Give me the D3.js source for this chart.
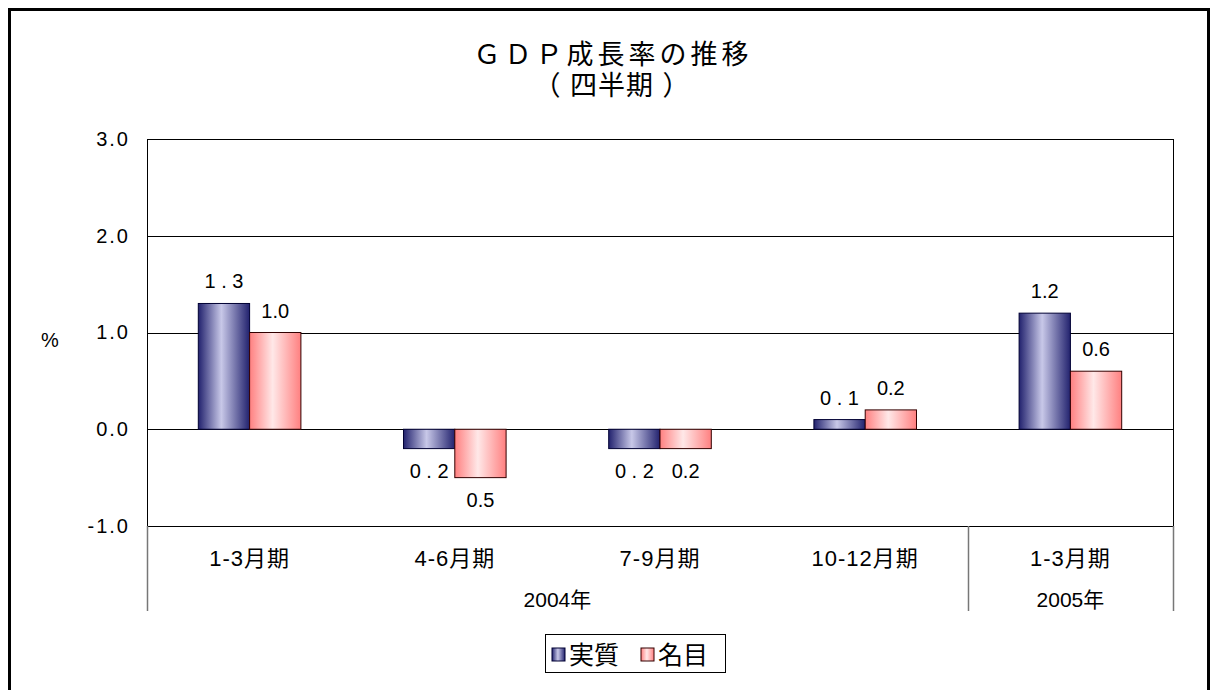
<!DOCTYPE html>
<html><head><meta charset="utf-8">
<script src="https://cdn.jsdelivr.net/npm/d3@7"></script>
<style>body{margin:0;background:#fff}svg{display:block}text{font-family:"Liberation Sans","Noto Sans CJK JP",sans-serif;fill:#000}</style>
</head><body>
<svg id="c" width="1213" height="690"></svg>
<script>
const categories = ["1-3月期","4-6月期","7-9月期","10-12月期","1-3月期"];
const years = [{label:"2004年", from:0, to:4},{label:"2005年", from:4, to:5}];
const seriesNames = ["実質","名目"];
const realValues = [1.3,-0.2,-0.2,0.1,1.2];
const nominalValues = [1.0,-0.5,-0.2,0.2,0.6];
const realLabels = ["1 . 3","0 . 2","0 . 2","0 . 1","1.2"];
const nominalLabels = ["1.0","0.5","0.2","0.2","0.6"];
const yTicks = [-1,0,1,2,3];

const svg = d3.select("#c");
const defs = svg.append("defs");
function grad(id, edge, mid){
  const g = defs.append("linearGradient").attr("id",id).attr("x1","0").attr("x2","1").attr("y1","0").attr("y2","0");
  g.append("stop").attr("offset","0%").attr("stop-color",edge);
  g.append("stop").attr("offset","45%").attr("stop-color",mid);
  g.append("stop").attr("offset","100%").attr("stop-color",edge);
}
grad("gb","#22226e","#c8c8e8");
grad("gp","#ff8080","#ffe8e8");

// outer frame
svg.append("rect").attr("x",9.5).attr("y",9.5).attr("width",1199).attr("height",700)
  .attr("fill","none").attr("stroke","#000").attr("stroke-width",3);

const L=147,R=1173,T=139,B=526;
const x = d3.scaleBand().domain(d3.range(categories.length)).range([L,R]).paddingInner(0).paddingOuter(0);
const y = d3.scaleLinear().domain([-1,3]).range([B,T]);
const inner = d3.scaleBand().domain([0,1]).range([0,x.bandwidth()]).paddingInner(0).paddingOuter(1);

// gridlines
svg.append("g").selectAll("line").data(yTicks).join("line")
  .attr("x1",L).attr("x2",R).attr("y1",d=>Math.round(y(d))+0.5).attr("y2",d=>Math.round(y(d))+0.5)
  .attr("stroke","#000").attr("stroke-width",1);
svg.append("rect").attr("x",L+0.5).attr("y",T+0.5).attr("width",R-L).attr("height",B-T)
  .attr("fill","none").attr("stroke","#000");

// y axis
const yAxis = d3.axisLeft(y).tickValues(yTicks).tickSize(0).tickPadding(17).tickFormat(d3.format(".1f"));
const ya = svg.append("g").attr("transform",`translate(${L},0)`).call(yAxis);
ya.select(".domain").remove();
ya.selectAll("text").attr("font-size",20).attr("letter-spacing","2px").attr("font-family",'"Liberation Sans",sans-serif')
  .text(d=>d3.format(".1f")(d).replace("−","-"));
svg.append("text").attr("x",50).attr("y",347).attr("text-anchor","middle").attr("font-size",20).text("%");

// title
svg.append("text").attr("x",613).attr("y",64).attr("text-anchor","middle").attr("font-size",27).attr("letter-spacing","4px").text("ＧＤＰ成長率の推移");
svg.append("text").attr("x",612).attr("y",95).attr("text-anchor","middle").attr("font-size",27).attr("letter-spacing","1px").text("（ 四半期 ）");

// bars
const series = [{vals:realValues, labels:realLabels, fill:"url(#gb)", stroke:"#000033"},
                {vals:nominalValues, labels:nominalLabels, fill:"url(#gp)", stroke:"#330000"}];
series.forEach((s,si)=>{
  const g = svg.append("g");
  g.selectAll("rect").data(s.vals).join("rect")
    .attr("x",(d,i)=>x(i)+inner(si)).attr("width",inner.bandwidth())
    .attr("y",d=>y(Math.max(0,d))).attr("height",d=>Math.abs(y(d)-y(0)))
    .attr("fill",s.fill).attr("stroke",s.stroke).attr("stroke-width",1);
  g.selectAll("text").data(s.vals).join("text")
    .attr("x",(d,i)=>x(i)+inner(si)+inner.bandwidth()/2)
    .attr("y",d=> d>=0 ? y(d)-15 : y(d)+29)
    .attr("text-anchor","middle").attr("font-size",20)
    .text((d,i)=>s.labels[i]);
});

// category axis
svg.append("g").selectAll("text").data(categories).join("text")
  .attr("x",(d,i)=>x(i)+x.bandwidth()/2).attr("y",566).attr("text-anchor","middle").attr("font-size",22).attr("letter-spacing","1px").text(d=>d);
const seps = [0,4,5];
svg.append("g").selectAll("line").data(seps).join("line")
  .attr("x1",d=>Math.round(d<categories.length?x(d):R)+0.5).attr("x2",d=>Math.round(d<categories.length?x(d):R)+0.5)
  .attr("y1",B).attr("y2",611).attr("stroke","#777").attr("stroke-width",1.5);
svg.append("g").selectAll("text").data(years).join("text")
  .attr("x",d=>(x(d.from)+(d.to<categories.length?x(d.to):R))/2).attr("y",607)
  .attr("text-anchor","middle").attr("font-size",21).text(d=>d.label);

// legend
const lg = svg.append("g");
lg.append("rect").attr("x",545.5).attr("y",634.5).attr("width",180).attr("height",38).attr("fill","#fff").attr("stroke","#000");
const legX = [552, 641];
seriesNames.forEach((n,i)=>{
  lg.append("rect").attr("x",legX[i]).attr("y",648).attr("width",13).attr("height",13).attr("fill",series[i].fill).attr("stroke",series[i].stroke);
  lg.append("text").attr("x",legX[i]+17).attr("y",664).attr("font-size",25).text(n);
});
</script>
</body></html>
